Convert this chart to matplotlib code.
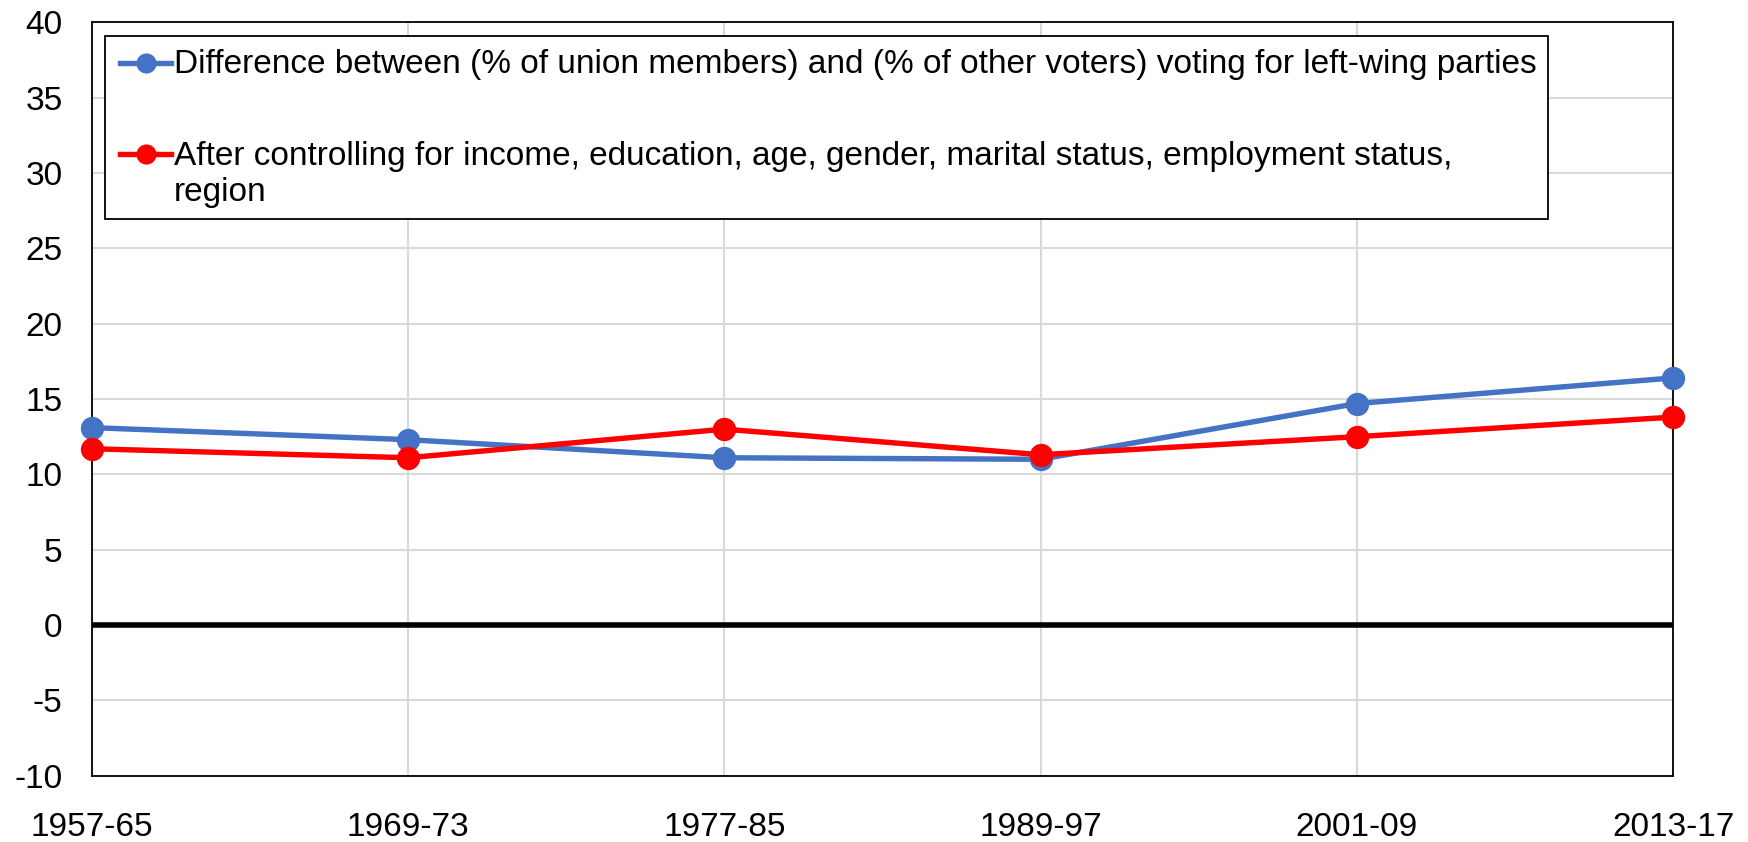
import matplotlib
matplotlib.use("Agg")
import matplotlib.pyplot as plt
from matplotlib.patches import Rectangle
from matplotlib.lines import Line2D

periods = ["1957-65", "1969-73", "1977-85", "1989-97", "2001-09", "2013-17"]
raw_gap = [13.1, 12.3, 11.1, 11.0, 14.7, 16.4]
controlled_gap = [11.7, 11.1, 13.0, 11.3, 12.5, 13.8]
label_raw = "Difference between (% of union members) and (% of other voters) voting for left-wing parties"
label_ctrl_1 = "After controlling for income, education, age, gender, marital status, employment status,"
label_ctrl_2 = "region"

plt.rcParams['font.family'] = ['Liberation Sans', 'DejaVu Sans']
plt.rcParams['axes.unicode_minus'] = False
FS = 24
BLUE = "#4472C4"
RED = "#FF0000"

W, H = 1749, 842
fig = plt.figure(figsize=(W / 100, H / 100), dpi=100)
L, R, T, B = 91.7, 1673.3, 22.3, 775.7
ax = fig.add_axes([L / W, 1 - B / H, (R - L) / W, (B - T) / H])

x = list(range(len(periods)))
ax.plot(x, raw_gap, color=BLUE, lw=3.9, marker="o", ms=16.8, mew=0, clip_on=False, zorder=4)
ax.plot(x, controlled_gap, color=RED, lw=3.9, marker="o", ms=16.8, mew=0, clip_on=False, zorder=5)
ax.axhline(0, color="black", lw=4, zorder=3)

ax.set_xlim(0, len(periods) - 1)
ax.set_ylim(-10, 40)
ax.set_yticks(range(-10, 41, 5))
ax.set_xticks(x)
ax.set_xticklabels(periods)
ax.tick_params(axis="both", length=0, labelsize=FS)
ax.tick_params(axis="y", pad=21)
ax.tick_params(axis="x", pad=26)
ax.grid(True, color="#d9d9d9", lw=1.5, zorder=1)
ax.set_axisbelow(True)
for s in ax.spines.values():
    s.set_color("black")
    s.set_linewidth(1.3)

# legend drawn manually (pixel positions converted to axes fraction)
def fx(px):
    return (px - L) / (R - L)

def fy(py):
    return 1 - (py - T) / (B - T)

box = Rectangle((fx(104.7), fy(219)), fx(1548.3) - fx(104.7), fy(36) - fy(219),
                transform=ax.transAxes, facecolor="white", edgecolor="black",
                lw=1.3, zorder=6, clip_on=False)
ax.add_patch(box)
for ypix, col in [(63.3, BLUE), (154.3, RED)]:
    ax.add_line(Line2D([fx(120), fx(171)], [fy(ypix), fy(ypix)], transform=ax.transAxes,
                       color=col, lw=3.9, zorder=7, clip_on=False))
    ax.add_line(Line2D([fx(145.7)], [fy(ypix)], transform=ax.transAxes, color=col,
                       marker="o", ms=14.5, mew=0, zorder=8, clip_on=False))
ax.text(fx(174), fy(73.5), label_raw, transform=ax.transAxes, fontsize=FS,
        va="baseline", ha="left", zorder=9)
ax.text(fx(174), fy(165), label_ctrl_1, transform=ax.transAxes, fontsize=FS,
        va="baseline", ha="left", zorder=9)
ax.text(fx(174), fy(201.5), label_ctrl_2, transform=ax.transAxes, fontsize=FS,
        va="baseline", ha="left", zorder=9)

fig.savefig("out.png", dpi=100)
